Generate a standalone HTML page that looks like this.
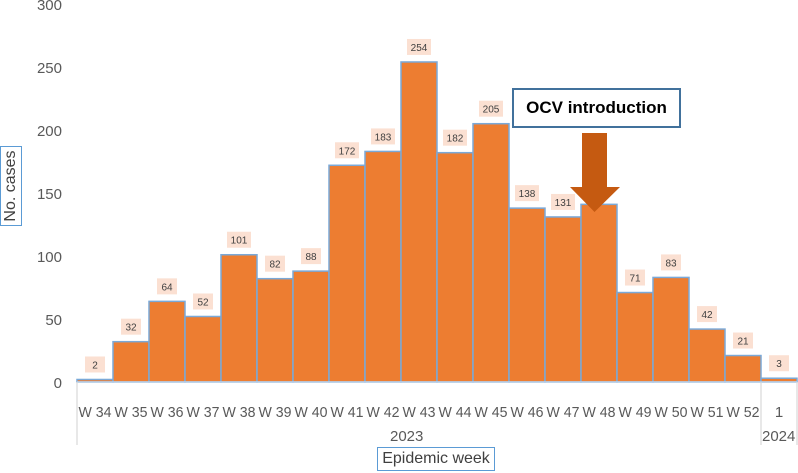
<!DOCTYPE html>
<html><head><meta charset="utf-8"><style>
body{margin:0;background:#fff;width:798px;height:473px;overflow:hidden;font-family:"Liberation Sans",sans-serif;position:relative}
</style></head><body>
<svg id="c" width="798" height="473" xmlns="http://www.w3.org/2000/svg" style="position:absolute;left:0;top:0"></svg>
<script>
const categories=["W 34","W 35","W 36","W 37","W 38","W 39","W 40","W 41","W 42","W 43","W 44","W 45","W 46","W 47","W 48","W 49","W 50","W 51","W 52","1"];
const cases=[2,32,64,52,101,82,88,172,183,254,182,205,138,131,141,71,83,42,21,3];
const labels=["2","32","64","52","101","82","88","172","183","254","182","205","138","131","","71","83","42","21","3"];
const yTicks=[0,50,100,150,200,250,300];
const NS="http://www.w3.org/2000/svg";
const svg=document.getElementById('c');
const x0=77,bw=36,y0=382,yTop=4;
const y=v=>y0-(v/300)*(y0-yTop);
const xb=i=>x0+i*bw;
function mk(t,a,p){const e=document.createElementNS(NS,t);for(const k in a)e.setAttribute(k,a[k]);(p||svg).appendChild(e);return e;}
yTicks.forEach(t=>{const e=mk('text',{x:62,y:y(t)+6,'text-anchor':'end','font-size':15,fill:'#595959'});e.textContent=t;

});
cases.forEach((v,i)=>{
 const r=mk('rect',{x:xb(i),y:y(v),width:bw,height:y0-y(v),fill:'#ed7d31',stroke:'#7aa9d8','stroke-width':1.5});
 
 
 if(labels[i]){const w=labels[i].length>2?24:20;
 const b=mk('rect',{x:xb(i)+bw/2-w/2,y:y(v)-23,width:w,height:16,fill:'#fbe0d2'});
 
 
 const t=mk('text',{x:xb(i)+bw/2,y:y(v)-11,'text-anchor':'middle','font-size':10,fill:'#404040'});t.textContent=labels[i];
 
 }
 const a={x:xb(i)+bw/2,y:417,'text-anchor':'middle','font-size':15,fill:'#595959'};
 if(categories[i].length>2){a.textLength=33;a.lengthAdjust='spacingAndGlyphs';}
 const tl=mk('text',a);tl.textContent=categories[i];
 
 
});
mk('line',{x1:x0,y1:y0,x2:797,y2:y0,stroke:'#bfd3ea','stroke-width':1.5});
[x0,761,797].forEach(xx=>mk('line',{x1:xx,y1:y0,x2:xx,y2:445,stroke:'#d9d9d9','stroke-width':1.2}));
</script>
<div style="position:absolute;left:390px;top:428px;font-size:15px;color:#595959">2023</div>
<div style="position:absolute;left:762px;top:428px;font-size:15px;color:#595959">2024</div>
<div style="position:absolute;left:377px;top:447px;width:118px;height:24px;border:1px solid #5b9bd5;font-size:16px;color:#404040;text-align:center;line-height:22px;box-sizing:border-box">Epidemic week</div>
<div style="position:absolute;left:-29px;top:175px;width:80px;height:22px;border:1px solid #5b9bd5;font-size:16px;color:#404040;text-align:center;line-height:20px;transform:rotate(-90deg);box-sizing:border-box">No. cases</div>
<div style="position:absolute;left:512px;top:88px;width:169px;height:40px;border:2px solid #41719c;box-sizing:border-box;font-weight:bold;font-size:17px;text-align:center;line-height:36px;color:#000;background:#fff">OCV introduction</div>
<svg style="position:absolute;left:570px;top:132px" width="52" height="82"><polygon points="12,1 37,1 37,55 50,55 24.5,80 0,55 12,55" fill="#c55a11"/></svg>
</body></html>
